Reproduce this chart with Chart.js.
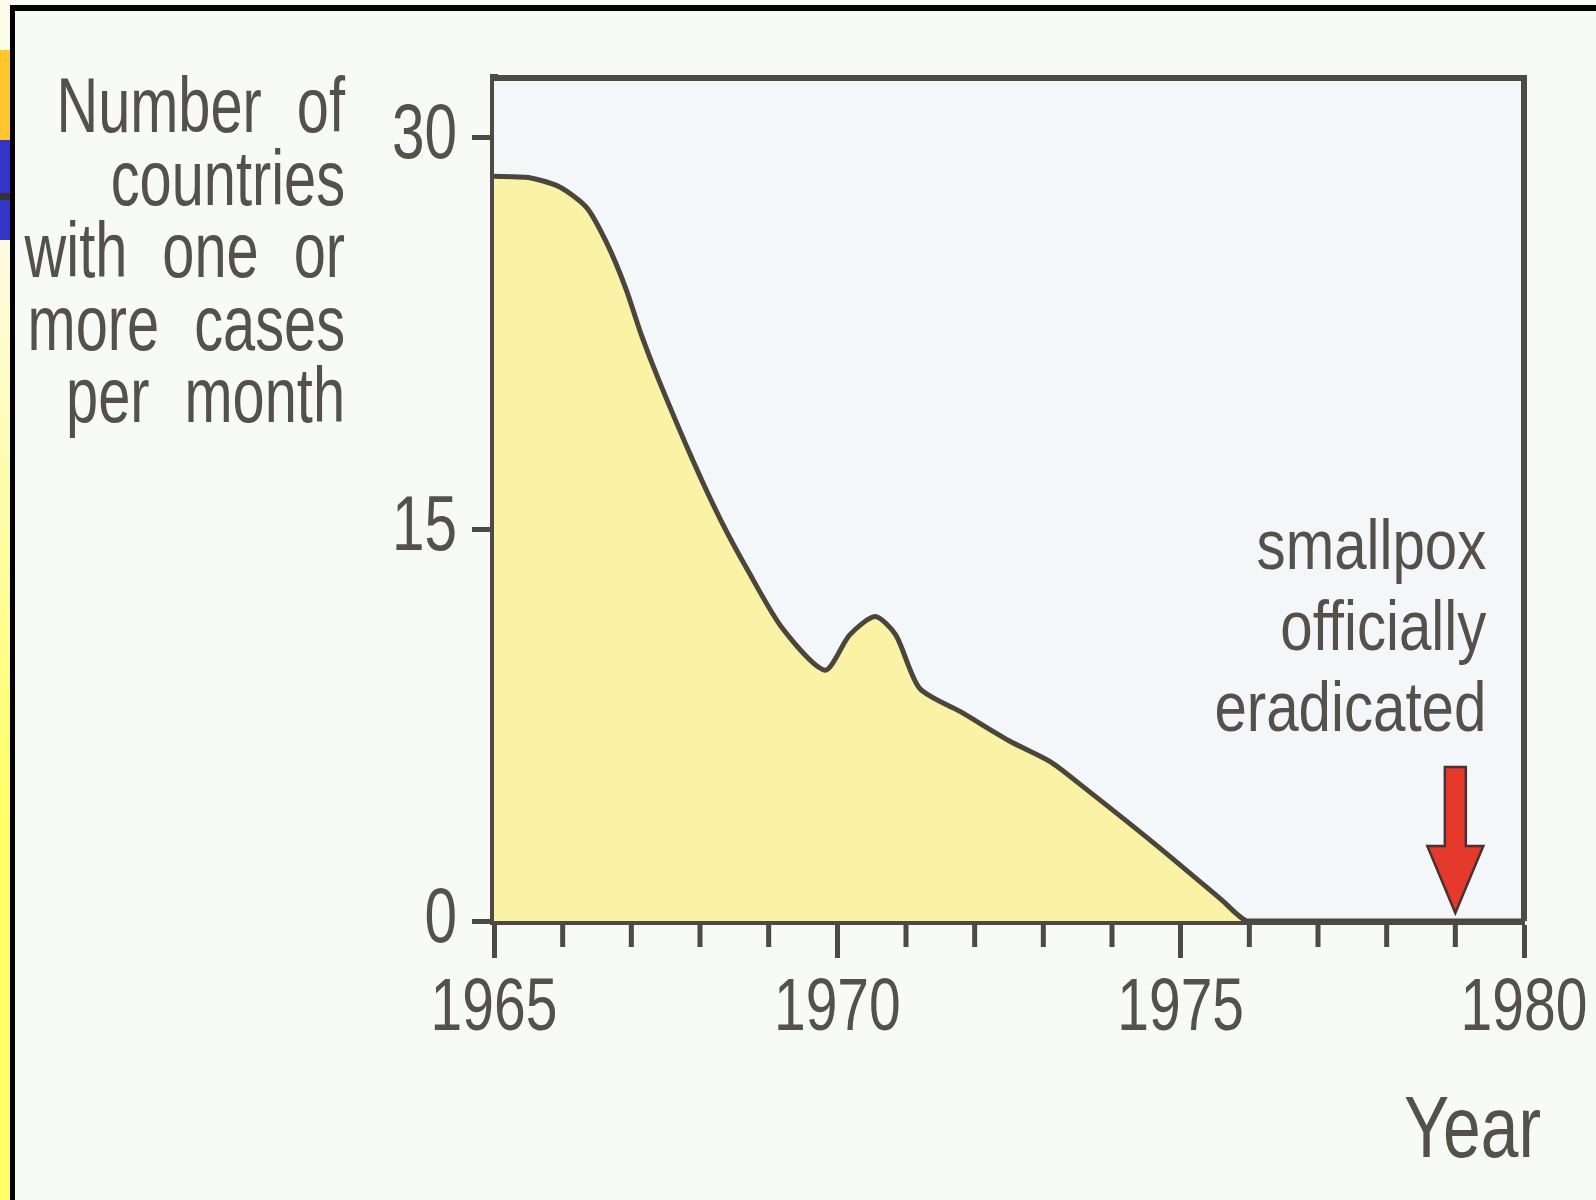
<!DOCTYPE html>
<html>
<head>
<meta charset="utf-8">
<title>Smallpox eradication</title>
<script src="https://cdn.jsdelivr.net/npm/chart.js@4.4.1/dist/chart.umd.min.js"></script>
<style>
    html, body { margin: 0; padding: 0; }
    body { width: 1596px; height: 1200px; position: relative; overflow: hidden; background: #f7faf6; }
    .strip { position: absolute; left: 0; width: 10px; }
    .frame-v { position: absolute; left: 10px; top: 5px; width: 5px; height: 1195px; background: #000; }
    .frame-h { position: absolute; left: 10px; top: 5px; width: 1586px; height: 6px; background: #000; }
    #box { position: absolute; left: 15px; top: 11px; width: 1581px; height: 1189px; background: #f7faf6; }
</style>
</head>
<body>
<div class="strip" style="top:0;height:50px;background:#fdfce8"></div>
<div class="strip" style="top:50px;height:90px;background:#ffc62e"></div>
<div class="strip" style="top:140px;height:53px;background:#3434c8"></div>
<div class="strip" style="top:193px;height:7px;background:#333"></div>
<div class="strip" style="top:200px;height:40px;background:#3434c8"></div>
<div class="strip" style="top:240px;height:960px;background:linear-gradient(#fffbe2, #ffff66 60%)"></div>
<div class="frame-v"></div>
<div class="frame-h"></div>
<div id="box"><canvas id="grafico" width="1581" height="1189"></canvas></div>

<script>
// countries with one or more cases per month
const anos = [1965, 1965.5, 1965.95, 1966.35, 1966.65, 1966.92, 1967.15, 1967.4, 1967.9, 1968.3,
    1968.7, 1969.2, 1969.82, 1970.18, 1970.55, 1970.85, 1971.2, 1971.8, 1972.5, 1973.1,
    1973.55, 1974.6, 1975.6, 1975.96, 1976.4, 1980];
const paises = [28.5, 28.45, 28.1, 27.3, 25.9, 24.2, 22.4, 20.7, 17.6, 15.35,
    13.4, 11.2, 9.6, 10.95, 11.65, 10.95, 8.9, 8.0, 6.9, 6.1,
    5.2, 3.0, 0.8, 0, 0, 0];

const yTicks = [0, 15, 30];
const xLabels = [1965, 1970, 1975, 1980];
const anoErradicacao = 1979;

const tituloY = ['Number of', 'countries', 'with one or', 'more cases', 'per month'];
const anotacao = ['smallpox', 'officially', 'eradicated'];
const tituloX = 'Year';

const FONTE = '"Liberation Sans", Arial, sans-serif';
const COR_TEXTO = '#55514a';
const COR_EIXO = '#4d4a43';

// the original lettering is a condensed Helvetica: squeeze every fillText horizontally
const ESCALA_PADRAO = 0.76;
let escalaX = ESCALA_PADRAO;

const ctx = document.getElementById('grafico').getContext('2d');
const fillOriginal = ctx.fillText.bind(ctx);
ctx.fillText = function (texto, x, y, maxW) {
    this.save();
    this.translate(x, y);
    this.scale(escalaX, 1);
    if (maxW === undefined) fillOriginal(texto, 0, 0);
    else fillOriginal(texto, 0, 0, maxW / escalaX);
    this.restore();
};

const fundoPlot = {
    id: 'fundoPlot',
    beforeDatasetsDraw(chart) {
        const { ctx, chartArea: a } = chart;
        ctx.save();
        ctx.fillStyle = '#f4f7f9';
        ctx.fillRect(a.left, a.top, a.right - a.left, a.bottom - a.top);
        ctx.restore();
    }
};

const extras = {
    id: 'extras',
    afterDraw(chart) {
        const { ctx, chartArea: a } = chart;
        const x = chart.scales.x, y = chart.scales.y;
        ctx.save();

        // top and right edges of the box
        ctx.strokeStyle = COR_EIXO;
        ctx.lineWidth = 6;
        ctx.beginPath();
        ctx.moveTo(a.left, a.top);
        ctx.lineTo(a.right, a.top);
        ctx.lineTo(a.right, a.bottom);
        ctx.stroke();

        // minor ticks (every year)
        ctx.lineWidth = 5;
        x.ticks.forEach(t => {
            if (xLabels.includes(t.value)) return;
            const px = x.getPixelForValue(t.value);
            ctx.beginPath();
            ctx.moveTo(px, a.bottom);
            ctx.lineTo(px, a.bottom + 26);
            ctx.stroke();
        });

        // y title, right aligned with wide word spacing
        ctx.fillStyle = COR_TEXTO;
        ctx.font = '77px ' + FONTE;
        ctx.textBaseline = 'alphabetic';
        ctx.textAlign = 'left';
        escalaX = 0.75;
        const direita = 330;
        tituloY.forEach((linha, i) => {
            const palavras = linha.split(' ');
            let px = direita;
            for (let j = palavras.length - 1; j >= 0; j--) {
                px -= ctx.measureText(palavras[j]).width * escalaX;
                ctx.fillText(palavras[j], px, 121 + i * 72.5);
                px -= 35;
            }
        });

        // arrow
        const ax = x.getPixelForValue(anoErradicacao);
        const ponta = y.getPixelForValue(0) - 8;
        ctx.beginPath();
        ctx.moveTo(ax - 10.5, ponta - 146);
        ctx.lineTo(ax + 10.5, ponta - 146);
        ctx.lineTo(ax + 10.5, ponta - 67);
        ctx.lineTo(ax + 28, ponta - 67);
        ctx.lineTo(ax, ponta);
        ctx.lineTo(ax - 28, ponta - 67);
        ctx.lineTo(ax - 10.5, ponta - 67);
        ctx.closePath();
        ctx.fillStyle = '#e5392c';
        ctx.fill();
        ctx.lineWidth = 2.5;
        ctx.strokeStyle = '#4a3030';
        ctx.stroke();

        // annotation
        ctx.fillStyle = COR_TEXTO;
        ctx.font = '71px ' + FONTE;
        ctx.textAlign = 'right';
        escalaX = 0.82;
        anotacao.forEach((linha, i) => ctx.fillText(linha, ax + 31, 558 + i * 81));

        // x title
        ctx.font = '88px ' + FONTE;
        escalaX = 0.77;
        ctx.fillText(tituloX, 1526, 1146);

        escalaX = ESCALA_PADRAO;
        ctx.restore();
    }
};

new Chart(ctx, {
    type: 'line',
    data: {
        datasets: [{
            data: anos.map((a, i) => ({ x: a, y: paises[i] })),
            borderColor: '#4a463b',
            borderWidth: 5,
            backgroundColor: '#faf2a4',
            fill: 'origin',
            tension: 0.25,
            pointRadius: 0,
            borderJoinStyle: 'round',
        }]
    },
    options: {
        responsive: false,
        animation: false,
        layout: { padding: { left: 0, top: 67, right: 72, bottom: 0 } },
        plugins: { legend: { display: false }, tooltip: { enabled: false } },
        scales: {
            x: {
                type: 'linear',
                min: 1965,
                max: 1980,
                z: 1,
                afterFit(s) { s.height = 279; s.paddingLeft = 0; s.paddingRight = 0; },
                grid: {
                    drawOnChartArea: false,
                    tickLength: 37,
                    tickWidth: 5,
                    tickColor: c => xLabels.includes(c.tick.value) ? COR_EIXO : 'rgba(0,0,0,0)',
                },
                border: { display: true, width: 8, color: COR_EIXO },
                ticks: {
                    stepSize: 1,
                    autoSkip: false,
                    maxRotation: 0,
                    padding: 14,
                    color: COR_TEXTO,
                    font: { family: FONTE, size: 75, lineHeight: 1 },
                    callback: v => xLabels.includes(v) ? String(v) : '',
                },
            },
            y: {
                min: 0,
                max: 32.26,
                z: 1,
                afterFit(s) { s.width = 479; s.paddingTop = 0; s.paddingBottom = 0; },
                afterBuildTicks(s) { s.ticks = yTicks.map(v => ({ value: v })); },
                grid: {
                    drawOnChartArea: false,
                    tickLength: 22,
                    tickWidth: 5,
                    tickColor: COR_EIXO,
                },
                border: { display: true, width: 8, color: COR_EIXO },
                ticks: {
                    padding: 15,
                    color: COR_TEXTO,
                    font: { family: FONTE, size: 77, lineHeight: 1 },
                },
            }
        }
    },
    plugins: [fundoPlot, extras]
});
</script>
</body>
</html>
